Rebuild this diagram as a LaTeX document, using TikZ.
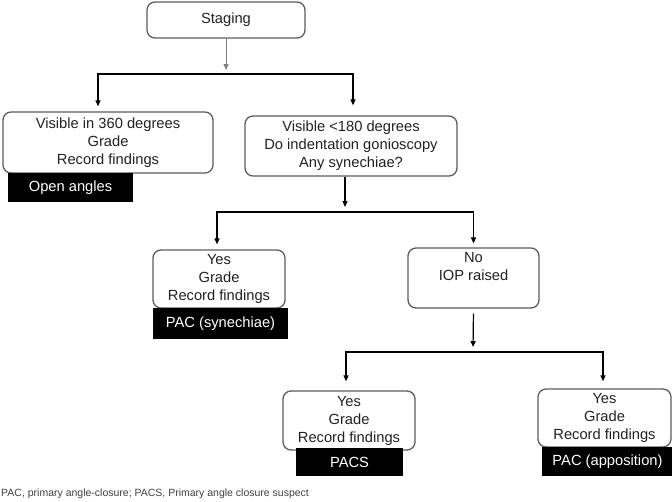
\documentclass[tikz,border=0pt]{standalone}
\usepackage{fontspec}
\setmainfont{Liberation Sans}
\usetikzlibrary{arrows.meta,calc,positioning}
\definecolor{boxgrey}{rgb}{0.36,0.36,0.36}
\definecolor{txtgrey}{rgb}{0.13,0.13,0.13}
\tikzstyle{stage} = [draw=boxgrey, line width=1.3pt, rounded corners=8pt, align=center, text=txtgrey, inner sep=0pt, font=\fontsize{14.7}{18}\selectfont]
\tikzstyle{result} = [fill=black, text=white, align=center, inner sep=0pt, font=\fontsize{14.7}{18}\selectfont]
\tikzstyle{arrow} = [line width=1.2pt,->,>={Triangle[length=6pt,width=5pt]}]

\begin{document}
\begin{tikzpicture}[x=1pt,y=-1pt]
\useasboundingbox (0,0) rectangle (672,501);
% boxes
\node (staging) at (226,20) [stage, minimum width=158pt, minimum height=36pt] {Staging};
\node (open360) at (108,142.5) [stage, minimum width=210pt, minimum height=61pt] {Visible in 360 degrees\\Grade\\Record findings};
\node (visible180) at (351,146) [stage, minimum width=212pt, minimum height=60pt] {Visible <180 degrees\\Do indentation gonioscopy\\Any synechiae?};
\node (yes1) at (219,279) [stage, minimum width=132pt, minimum height=58pt] {Yes\\Grade\\Record findings};
\node (no) at (473.5,278) [stage, minimum width=131pt, minimum height=60pt] {No\\IOP raised\\\strut};
\node (yes2) at (349,420.5) [stage, minimum width=132pt, minimum height=59pt] {Yes\\Grade\\Record findings};
\node (yes3) at (604.5,418) [stage, minimum width=133pt, minimum height=58pt] {Yes\\Grade\\Record findings};
% black result labels
\node (openang) at (70.5,187.5) [result, minimum width=125pt, minimum height=29pt] {Open angles};
\node (pacsyn) at (220.5,323.5) [result, minimum width=135pt, minimum height=31pt] {PAC (synechiae)};
\node (pacs) at (349.5,462) [result, minimum width=107pt, minimum height=28pt] {PACS};
\node (pacapp) at (607.5,461.5) [result, minimum width=131pt, minimum height=29pt] {PAC (apposition)};
% connectors
\coordinate (j1) at (226,74);
\coordinate (j2) at (345,212);
\coordinate (j3) at (473,352);
\draw[arrow, draw=gray, line width=0.8pt, shorten >=4pt] (staging) -- (j1);
\draw[arrow, shorten >=5pt] (j1) -| ([xshift=-10pt]open360.north);
\draw[arrow, shorten >=10pt] (j1) -| ([xshift=2pt]visible180.north);
\draw[arrow, shorten >=5pt] ([xshift=-6pt]visible180.south) -- (j2);
\draw[arrow, shorten >=5pt] (j2) -| ([xshift=-2pt]yes1.north);
\draw[arrow, shorten >=4pt] (j2) -| (no.north);
\draw[arrow, shorten <=5pt, shorten >=5pt] (no.south) -- (j3);
\draw[arrow, shorten >=9pt] (j3) -| ([xshift=-3pt]yes2.north);
\draw[arrow, shorten >=7pt] (j3) -| ([xshift=-1.5pt]yes3.north);
% footnote
\node (note) at (1,494) [anchor=west, inner sep=0pt, text=darkgray, font=\fontsize{10.5}{12}\selectfont] {PAC, primary angle-closure; PACS, Primary angle closure suspect};
\end{tikzpicture}
\end{document}
